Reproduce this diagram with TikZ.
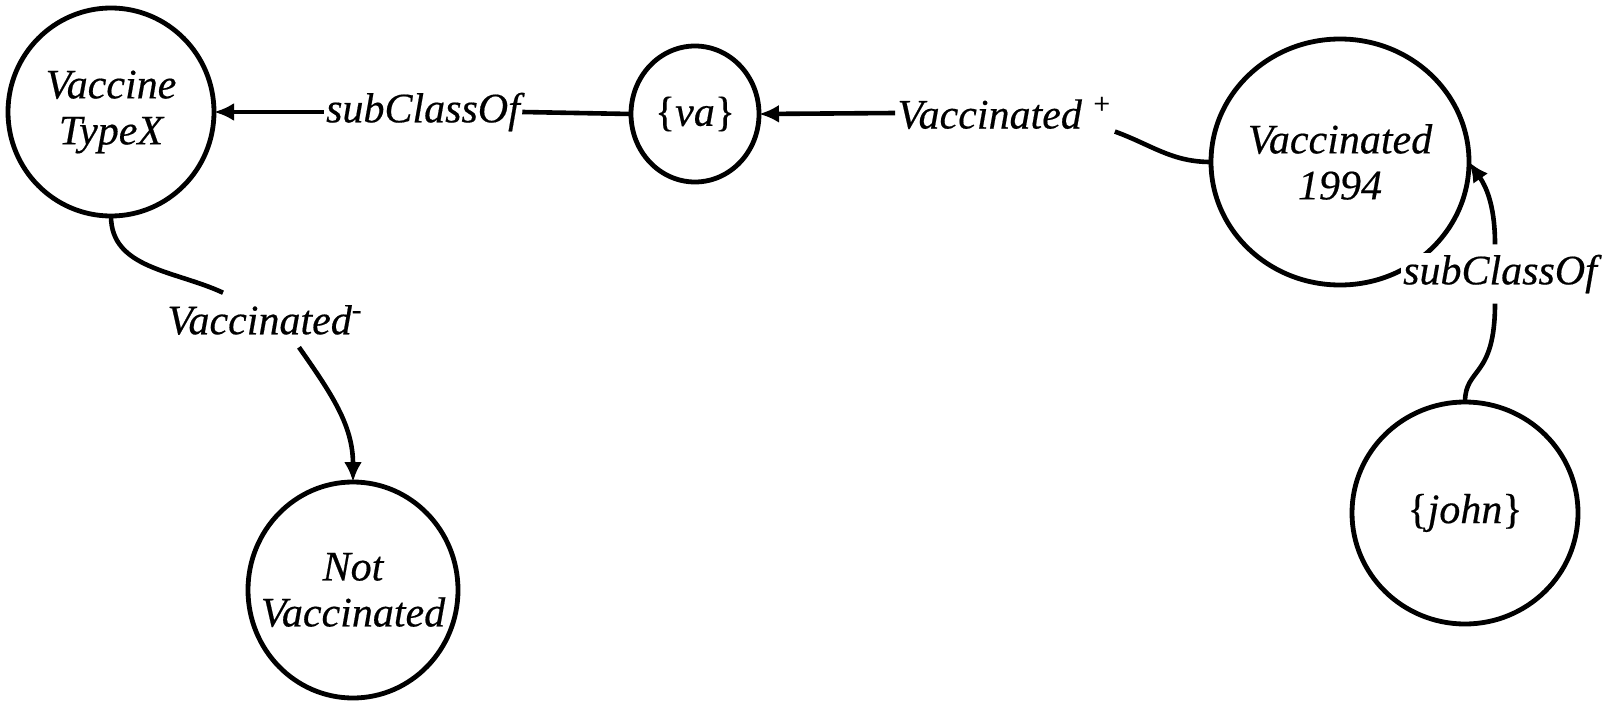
\documentclass[tikz,border=0pt]{standalone}
\usepackage{fontspec}
\setmainfont{Liberation Serif}[ItalicFeatures={FakeBold=0.4},FakeBold=0.4]
\usetikzlibrary{shapes.geometric,arrows.meta}
\begin{document}
\begin{tikzpicture}[x=0.5pt,y=-0.5pt,
  cls/.style={ellipse,draw,line width=2.4pt,inner sep=0pt,outer sep=0pt},
  txt/.style={font=\itshape\fontsize{21}{23}\selectfont,align=center,inner sep=0pt},
  lbl/.style={txt,fill=white,inner sep=1pt},
  link/.style={line width=2.3pt},
  arr/.style={link,-{Latex[length=10pt,width=9pt]}}]
\useasboundingbox (0,0) rectangle (1616,701);

% classes and individuals
\node[cls,minimum width=103pt,minimum height=104pt,
      label={[txt]center:{Vaccine\\TypeX}}] (vtx) at (111,112) {};
\node[cls,minimum width=64pt,minimum height=68pt,
      label={[txt]center:{\upshape\{\itshape va\upshape\}}}] (va) at (695,114) {};
\node[cls,minimum width=129pt,minimum height=123pt,
      label={[txt]center:{Vaccinated\\1994}}] (v94) at (1340,162) {};
\node[cls,minimum width=113pt,minimum height=111pt,
      label={[txt]center:{\upshape\{\itshape john\upshape\}}}] (john) at (1465,513) {};
\node[cls,minimum width=105pt,minimum height=108pt,
      label={[txt]center:{Not\\Vaccinated}}] (nv) at (353,590) {};

% edge labels
\node[lbl] (sc1) at (423,112) {subClassOf};
\node[lbl] (vplus) at (1005,113) {Vaccinated\textsuperscript{\,\,+}};
\node[lbl] (vminus) at (265,320) {Vaccinated\textsuperscript{-}};
\node[lbl] (sc2) at (1500,274) {subClassOf};

% connectors
\draw[link] (va.west) -- (sc1.east);
\draw[arr] (sc1.west) -- (vtx.east);
\draw[link] (v94.west) to[out=180,in=-20] (vplus.south east);
\draw[arr] (vplus.west) -- (va.east);
\draw[link] (vtx.south) to[out=-90,in=155] ([xshift=-21pt,yshift=5pt]vminus.north);
\draw[arr] ([xshift=17pt,yshift=-5pt]vminus.south) to[out=-55,in=90] (nv.north);
\draw[link] (john.north) .. controls +(0,-35) and +(0,75) .. ([xshift=-2.5pt,yshift=-4pt]sc2.south);
\draw[arr] ([xshift=-2.5pt,yshift=4pt]sc2.north) to[out=90,in=-55] (v94.east);
\end{tikzpicture}
\end{document}
